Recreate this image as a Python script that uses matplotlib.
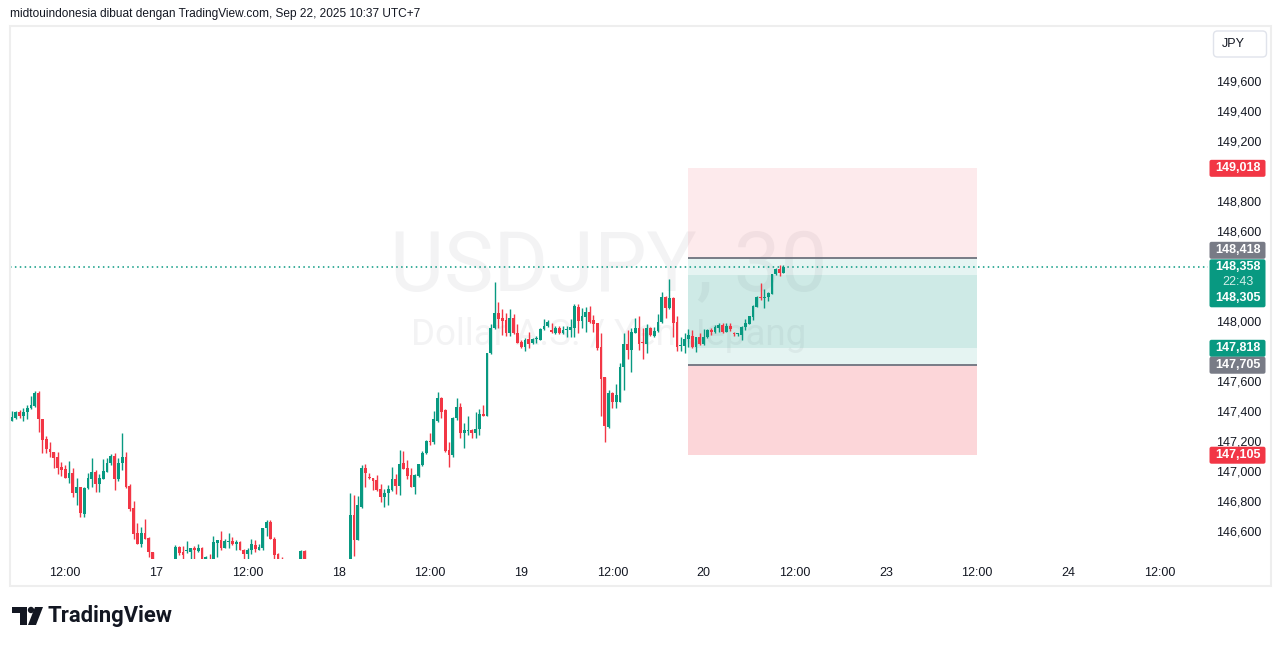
"""
USDJPY 30m snapshot in TradingView style: candles, two position tools,
price labels on the right scale.
"""

import numpy as np
import matplotlib.pyplot as plt
from matplotlib.patches import Rectangle, FancyBboxPatch, Polygon, Circle
from matplotlib.transforms import IdentityTransform

# ---- candles (one per 30 min bar, Sep 16 05:00 .. Sep 22 10:30, UTC+7) ----
opens = [
    147.335, 147.355, 147.391, 147.369, 147.391, 147.418, 147.433, 147.518, 147.345, 147.211,
    147.145, 147.127, 147.091, 147.025, 147.013, 146.955, 146.985, 146.855, 146.891, 146.713,
    146.885, 146.947, 146.991, 146.913, 146.947, 146.995, 147.051, 147.100, 146.947, 147.051,
    147.091, 146.900, 146.751, 146.585, 146.513, 146.585, 146.555, 146.458, 146.380, 146.330,
    146.370, 146.340, 146.380, 146.390, 146.495, 146.460, 146.467, 146.458, 146.485, 146.467,
    146.487, 146.390, 146.410, 146.400, 146.522, 146.540, 146.487, 146.527, 146.533, 146.513,
    146.527, 146.475, 146.447, 146.473, 146.505, 146.475, 146.487, 146.620, 146.660, 146.549,
    146.447, 146.390, 146.350, 146.330, 146.360, 146.340, 146.400, 146.467, 146.400, 146.350,
    146.300, 146.330, 146.290, 146.270, 146.300, 146.280, 146.310, 146.340, 146.320, 146.350,
    146.707, 146.540, 146.762, 147.022, 146.962, 146.953, 146.940, 146.878, 146.829, 146.851,
    146.873, 146.947, 146.900, 147.051, 147.018, 146.973, 146.895, 146.967, 147.040, 147.118,
    147.200, 147.193, 147.333, 147.489, 147.407, 147.140, 147.107, 147.353, 147.429, 147.255,
    147.267, 147.273, 147.251, 147.278, 147.380, 147.369, 147.785, 147.951, 148.055, 148.022,
    148.007, 147.922, 148.022, 147.922, 147.862, 147.829, 147.878, 147.851, 147.880, 147.873,
    147.945, 147.967, 147.940, 147.918, 147.951, 147.922, 147.940, 147.940, 147.955, 148.095,
    148.002, 148.029, 148.057, 148.007, 147.987, 147.829, 147.625, 147.291, 147.518, 147.462,
    147.462, 147.691, 147.847, 147.807, 147.922, 147.951, 147.855, 147.847, 147.951, 147.902,
    147.933, 147.990, 148.162, 148.087, 148.155, 147.991, 147.835, 147.833, 147.878, 147.900,
    147.829, 147.891, 147.845, 147.891, 147.940, 147.929, 147.955, 147.973, 147.929, 147.967,
    147.918, 147.911, 147.907, 147.958, 147.980, 148.029, 148.095, 148.158, 148.151, 148.158,
    148.180, 148.311, 148.347, 148.322,
]
highs = [
    147.400, 147.400, 147.407, 147.420, 147.440, 147.500, 147.533, 147.533, 147.345, 147.233,
    147.195, 147.127, 147.127, 147.062, 147.040, 147.067, 147.018, 146.955, 146.895, 146.891,
    146.985, 147.087, 147.007, 146.978, 147.080, 147.089, 147.111, 147.118, 147.087, 147.255,
    147.129, 146.913, 146.800, 146.651, 146.625, 146.678, 146.562, 146.460, 146.410, 146.400,
    146.410, 146.400, 146.415, 146.505, 146.500, 146.500, 146.533, 146.487, 146.500, 146.513,
    146.490, 146.430, 146.445, 146.567, 146.541, 146.600, 146.547, 146.585, 146.562, 146.540,
    146.535, 146.478, 146.487, 146.547, 146.540, 146.513, 146.622, 146.673, 146.673, 146.558,
    146.450, 146.425, 146.400, 146.390, 146.410, 146.405, 146.470, 146.475, 146.410, 146.400,
    146.360, 146.380, 146.340, 146.320, 146.350, 146.330, 146.370, 146.390, 146.380, 146.851,
    146.840, 146.833, 147.040, 147.047, 146.985, 146.955, 146.973, 146.911, 146.880, 146.907,
    147.025, 146.980, 147.140, 147.133, 147.073, 147.018, 146.980, 147.049, 147.133, 147.207,
    147.255, 147.400, 147.529, 147.491, 147.410, 147.191, 147.357, 147.489, 147.455, 147.318,
    147.369, 147.280, 147.395, 147.411, 147.440, 147.787, 147.978, 148.262, 148.125, 148.078,
    148.051, 148.078, 148.045, 147.978, 147.873, 147.885, 147.929, 147.887, 147.900, 147.951,
    148.011, 148.007, 147.989, 147.967, 147.967, 147.967, 147.967, 148.011, 148.111, 148.111,
    148.089, 148.091, 148.100, 148.040, 147.989, 147.918, 147.627, 147.540, 147.529, 147.580,
    147.720, 147.918, 147.940, 147.951, 148.018, 148.033, 147.951, 147.978, 147.962, 147.962,
    148.045, 148.191, 148.167, 148.280, 148.157, 148.033, 147.895, 147.918, 147.945, 147.940,
    147.893, 147.918, 147.945, 147.945, 147.951, 147.973, 147.985, 147.985, 147.985, 147.985,
    147.929, 147.920, 147.964, 148.011, 148.036, 148.107, 148.165, 148.255, 148.211, 148.195,
    148.316, 148.351, 148.373, 148.373,
]
lows = [
    147.330, 147.347, 147.355, 147.335, 147.347, 147.415, 147.429, 147.262, 147.120, 147.122,
    147.095, 147.018, 146.980, 146.969, 146.950, 146.918, 146.825, 146.773, 146.691, 146.695,
    146.878, 146.891, 146.862, 146.862, 146.945, 146.993, 147.040, 146.873, 146.930, 147.007,
    146.885, 146.735, 146.545, 146.510, 146.495, 146.545, 146.427, 146.350, 146.300, 146.290,
    146.310, 146.300, 146.330, 146.360, 146.440, 146.400, 146.455, 146.410, 146.410, 146.458,
    146.360, 146.370, 146.370, 146.390, 146.429, 146.473, 146.485, 146.487, 146.505, 146.473,
    146.470, 146.410, 146.415, 146.445, 146.462, 146.473, 146.470, 146.567, 146.547, 146.410,
    146.360, 146.320, 146.300, 146.290, 146.310, 146.300, 146.380, 146.370, 146.320, 146.280,
    146.250, 146.270, 146.230, 146.220, 146.260, 146.240, 146.280, 146.300, 146.290, 146.330,
    146.433, 146.538, 146.751, 146.895, 146.945, 146.873, 146.867, 146.795, 146.762, 146.773,
    146.869, 146.847, 146.840, 147.011, 146.949, 146.893, 146.847, 146.960, 147.033, 147.113,
    147.171, 147.180, 147.327, 147.355, 147.127, 147.025, 147.095, 147.340, 147.223, 147.155,
    147.240, 147.222, 147.218, 147.240, 147.365, 147.365, 147.780, 147.945, 147.951, 147.907,
    147.902, 147.900, 147.913, 147.853, 147.822, 147.800, 147.822, 147.845, 147.851, 147.873,
    147.943, 147.962, 147.918, 147.913, 147.913, 147.913, 147.895, 147.895, 147.895, 147.918,
    147.951, 147.929, 147.985, 147.929, 147.807, 147.369, 147.195, 147.285, 147.418, 147.418,
    147.460, 147.540, 147.747, 147.662, 147.920, 147.807, 147.747, 147.789, 147.900, 147.895,
    147.929, 147.985, 148.020, 148.082, 147.895, 147.800, 147.800, 147.789, 147.829, 147.818,
    147.795, 147.843, 147.843, 147.885, 147.907, 147.918, 147.929, 147.918, 147.927, 147.935,
    147.902, 147.902, 147.873, 147.940, 147.978, 148.007, 148.093, 148.140, 148.085, 148.135,
    148.178, 148.307, 148.302, 148.320,
]
closes = [
    147.362, 147.391, 147.369, 147.391, 147.418, 147.440, 147.518, 147.345, 147.207, 147.145,
    147.127, 147.089, 147.022, 147.007, 146.955, 146.985, 146.855, 146.891, 146.718, 146.885,
    146.951, 146.991, 146.913, 146.955, 147.000, 147.055, 147.100, 146.947, 147.051, 147.093,
    146.895, 146.745, 146.580, 146.513, 146.585, 146.547, 146.462, 146.380, 146.330, 146.370,
    146.340, 146.380, 146.400, 146.495, 146.455, 146.440, 146.473, 146.485, 146.473, 146.487,
    146.390, 146.425, 146.395, 146.527, 146.540, 146.487, 146.533, 146.533, 146.513, 146.527,
    146.473, 146.447, 146.473, 146.513, 146.478, 146.495, 146.620, 146.660, 146.549, 146.440,
    146.390, 146.350, 146.330, 146.360, 146.340, 146.390, 146.467, 146.400, 146.350, 146.300,
    146.330, 146.290, 146.270, 146.300, 146.280, 146.310, 146.340, 146.320, 146.350, 146.707,
    146.540, 146.773, 147.022, 146.989, 146.953, 146.935, 146.873, 146.829, 146.851, 146.878,
    146.947, 146.900, 147.047, 147.013, 146.967, 146.895, 146.973, 147.047, 147.118, 147.200,
    147.193, 147.347, 147.489, 147.395, 147.133, 147.107, 147.355, 147.427, 147.255, 147.273,
    147.273, 147.251, 147.278, 147.380, 147.367, 147.785, 147.955, 148.055, 148.013, 148.002,
    147.922, 148.022, 147.918, 147.855, 147.829, 147.873, 147.847, 147.880, 147.884, 147.947,
    147.967, 147.991, 147.929, 147.955, 147.922, 147.940, 147.947, 147.962, 148.097, 148.002,
    148.033, 148.062, 147.991, 147.980, 147.818, 147.613, 147.302, 147.518, 147.462, 147.507,
    147.691, 147.847, 147.807, 147.929, 147.951, 147.847, 147.851, 147.951, 147.907, 147.935,
    147.991, 148.162, 148.087, 148.155, 147.989, 147.829, 147.840, 147.878, 147.907, 147.829,
    147.891, 147.845, 147.895, 147.940, 147.929, 147.962, 147.973, 147.929, 147.967, 147.945,
    147.911, 147.918, 147.962, 147.989, 148.033, 148.102, 148.162, 148.151, 148.162, 148.189,
    148.313, 148.347, 148.322, 148.358,
]

# ---- position tools (short above, long below) ----
short_entry, short_stop, short_target = 148.418, 149.018, 147.818
long_entry, long_stop, long_target = 147.705, 147.105, 148.305
pos_start, pos_end = 178, 254          # bar indices
last_price = 148.358
countdown = "22:43"

# ---- axis labels ----
time_ticks = [14, 38, 62, 86, 110, 134, 158, 182, 206, 230, 254, 278, 302]
time_labels = ["12:00", "17", "12:00", "18", "12:00", "19", "12:00", "20",
               "12:00", "23", "12:00", "24", "12:00"]
price_ticks = [146.6, 146.8, 147.0, 147.2, 147.4, 147.6, 148.0,
               148.6, 148.8, 149.2, 149.4, 149.6]

UP, DOWN, GREY, INK = "#089981", "#f23645", "#787b86", "#131722"
W, H = 1281, 646

plt.rcParams["font.family"] = ["Liberation Sans", "DejaVu Sans"]


def fmt(v):
    return f"{v:.3f}".replace(".", ",")


fig = plt.figure(figsize=(W / 100, H / 100), dpi=100)
fig.patch.set_facecolor("white")
ax = fig.add_axes([10 / W, 1 - 559 / H, 1198 / W, 533 / H])
ax.set_xlim(-0.53, 314.74)
ax.set_ylim(146.413, 149.967)
for s in ax.spines.values():
    s.set_visible(False)

# watermark
ax.text(0.5, 0.546, "USDJPY, 30", transform=ax.transAxes, ha="center", va="center",
        fontsize=60, family="Roboto", color="#f3f3f4", zorder=0)
ax.text(0.5, 0.42, "Dollar A.S. / Yen Jepang", transform=ax.transAxes, ha="center",
        va="center", fontsize=26.5, family="Roboto", color="#f3f3f4", zorder=0)

# position zones
def zone(lo, hi, color, alpha):
    ax.add_patch(Rectangle((pos_start, lo), pos_end - pos_start, hi - lo,
                           facecolor=color, alpha=alpha, lw=0, zorder=1))

zone(short_entry, short_stop, DOWN, 0.1)
zone(short_target, short_entry, UP, 0.1)
zone(long_stop, long_entry, DOWN, 0.2)
zone(long_entry, long_target, UP, 0.1)
ax.hlines([short_entry, long_entry], pos_start, pos_end, color=GREY, lw=1.4, zorder=5)

# candles
o, h, l, c = map(np.array, (opens, highs, lows, closes))
x = np.arange(len(o))
col = np.where(c >= o, UP, DOWN)
ax.vlines(x, l, h, colors=col, lw=1.0, zorder=3)
ax.bar(x, np.maximum(np.abs(c - o), 0.006), bottom=np.minimum(o, c), width=0.78,
       color=col, lw=0, zorder=4)

ax.axhline(last_price, color=UP, lw=1.1, ls=(0, (1, 2.2)), zorder=6)

# axes ticks
ax.set_xticks(time_ticks, time_labels)
ax.tick_params(axis="x", length=0, pad=6, labelsize=9, labelcolor=INK)
ax.yaxis.tick_right()
ax.set_yticks(price_ticks, [fmt(v) for v in price_ticks])
ax.tick_params(axis="y", length=0, pad=5.5, labelsize=9, labelcolor=INK)

# frame around chart + scales
fig.add_artist(Rectangle((10, H - 586), 1261, 560, transform=IdentityTransform(),
                         fill=False, ec="#eeeeee", lw=1.5))


def ypx(price):
    return ax.transData.transform((0, price))[1]


def tag(yc, text, color, hgt=17, tcolor="white"):
    fig.add_artist(FancyBboxPatch((1209.5, yc - hgt / 2), 56, hgt,
                                  boxstyle="round,pad=0,rounding_size=2",
                                  transform=IdentityTransform(), fc=color, ec="none"))
    fig.text(1237.5, yc, text, transform=IdentityTransform(), ha="center", va="center",
             fontsize=9, fontweight="bold", color=tcolor)


tag(ypx(short_stop), fmt(short_stop), DOWN)
tag(ypx(short_entry) + 8, fmt(short_entry), GREY)
# last price box with countdown, stacked with long target
yl = ypx(last_price)
fig.add_artist(FancyBboxPatch((1209.5, yl - 40), 56, 48,
                              boxstyle="round,pad=0,rounding_size=2",
                              transform=IdentityTransform(), fc=UP, ec="none"))
fig.text(1237.5, yl, fmt(last_price), transform=IdentityTransform(), ha="center",
         va="center", fontsize=9, fontweight="bold", color="white")
fig.text(1237.5, yl - 15, countdown, transform=IdentityTransform(), ha="center",
         va="center", fontsize=9, color="#d2efe9")
fig.text(1237.5, yl - 31, fmt(long_target), transform=IdentityTransform(), ha="center",
         va="center", fontsize=9, fontweight="bold", color="white")
tag(ypx(short_target), fmt(short_target), UP)
tag(ypx(long_entry), fmt(long_entry), GREY)
tag(ypx(long_stop), fmt(long_stop), DOWN)

# currency button
fig.add_artist(FancyBboxPatch((1213.5, H - 57), 53, 26, boxstyle="round,pad=0,rounding_size=4",
                              transform=IdentityTransform(), fc="white", ec="#e0e3eb", lw=1))
fig.text(1233, H - 44, "JPY", transform=IdentityTransform(), ha="center", va="center",
         fontsize=9, color=INK)

# header
fig.text(10, H - 14, "midtouindonesia dibuat dengan TradingView.com, Sep 22, 2025 10:37 UTC+7",
         transform=IdentityTransform(), ha="left", va="center", fontsize=8.6, color=INK)

# TradingView logo
fig.add_artist(Polygon([(12, H - 607), (27, H - 607), (27, H - 625), (20, H - 625),
                        (20, H - 613), (12, H - 613)], closed=True,
                       transform=IdentityTransform(), fc=INK, ec="none"))
fig.add_artist(Circle((31, H - 610), 3.2, transform=IdentityTransform(), fc=INK, ec="none"))
fig.add_artist(Polygon([(35, H - 607), (43, H - 607), (36, H - 625), (28, H - 625)],
                       closed=True, transform=IdentityTransform(), fc=INK, ec="none"))
fig.text(48, H - 616, "TradingView", transform=IdentityTransform(), ha="left", va="center",
         fontsize=15.8, fontweight="bold", family=["Roboto", "DejaVu Sans"], color=INK)

fig.savefig("out.png", dpi=100, facecolor="white")
